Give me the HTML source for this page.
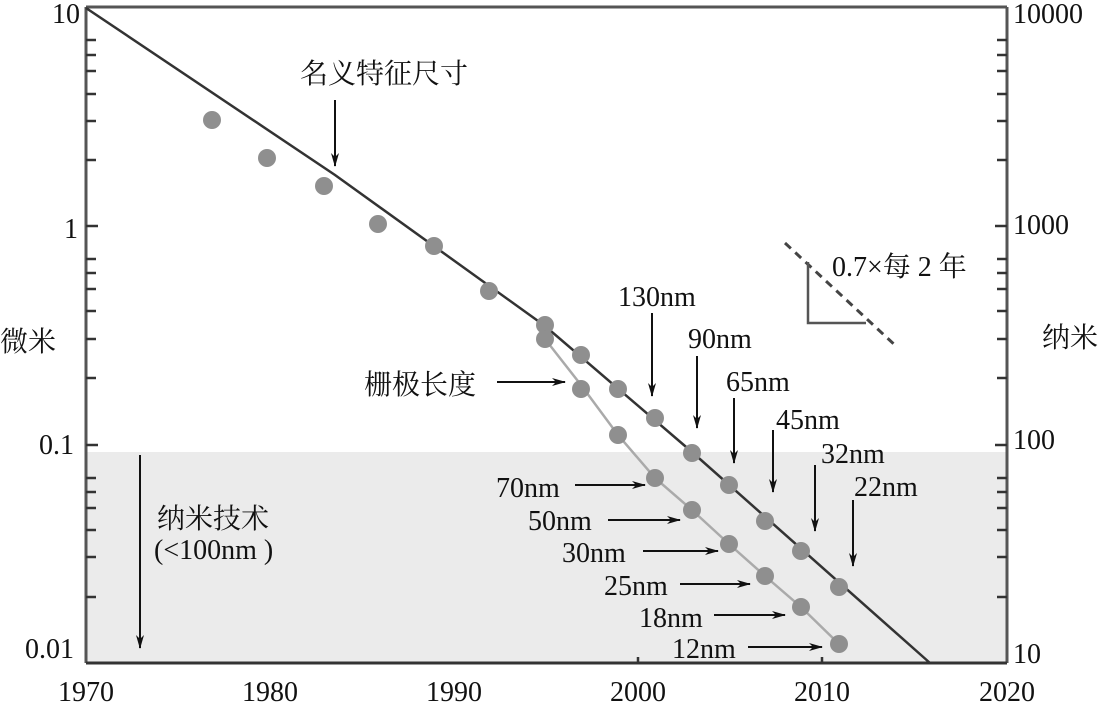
<!DOCTYPE html>
<html><head><meta charset="utf-8"><style>
html,body{margin:0;padding:0;background:#fff;}
svg text{font-family:"Liberation Serif","Noto Serif CJK SC",serif;fill:#111;}
</style></head><body>
<svg width="1098" height="705" viewBox="0 0 1098 705" xmlns="http://www.w3.org/2000/svg">
<defs><marker id="a" markerWidth="14" markerHeight="8" refX="13" refY="4" orient="auto" markerUnits="userSpaceOnUse"><path d="M0,0 L14,4 L0,8 L4,4 Z" fill="#111"/></marker></defs>
<rect x="86" y="452" width="921" height="211" fill="#ebebeb"/>
<g stroke="#555" stroke-width="3" fill="none">
<line x1="86" y1="7" x2="1007" y2="7"/>
<line x1="86" y1="7" x2="86" y2="663"/>
<line x1="1007" y1="7" x2="1007" y2="663"/>
<line x1="86" y1="663" x2="1007" y2="663" stroke="#333"/>
</g>
<g stroke="#333" stroke-width="2.5">
<path d="M86,40h10M86,55h10M86,71h10M86,94h10M86,121h10M86,160h10M86,226h12M86,259h10M86,273h10M86,289h10M86,311h10M86,339h10M86,378h10M86,445h12M86,478h10M86,492h10M86,508h10M86,530h10M86,557h10M86,597h10"/>
<path d="M1007,40h-10M1007,55h-10M1007,71h-10M1007,94h-10M1007,121h-10M1007,160h-10M1007,226h-12M1007,259h-10M1007,273h-10M1007,289h-10M1007,311h-10M1007,339h-10M1007,378h-10M1007,445h-12M1007,478h-10M1007,492h-10M1007,508h-10M1007,530h-10M1007,557h-10M1007,597h-10"/>
<path d="M638,663v-6M822,663v-6"/>
</g>
<polyline points="86,8 335,175 545,326 692,452 930,663" fill="none" stroke="#333" stroke-width="2.5"/>
<polyline points="545,339 581,385 618,435 655,478 692,510 729,544 765,576 801,607 839,644" fill="none" stroke="#aaa" stroke-width="2.5"/>
<g fill="#8f8f8f">
<circle cx="212" cy="120" r="9"/><circle cx="267" cy="158" r="9"/><circle cx="324" cy="186" r="9"/><circle cx="378" cy="224" r="9"/><circle cx="434" cy="246" r="9"/><circle cx="489" cy="291" r="9"/>
<circle cx="545" cy="325" r="9"/><circle cx="545" cy="339" r="9"/><circle cx="581" cy="355" r="9"/><circle cx="581" cy="389" r="9"/><circle cx="618" cy="389" r="9"/><circle cx="618" cy="435" r="9"/><circle cx="655" cy="418" r="9"/><circle cx="655" cy="478" r="9"/><circle cx="692" cy="453" r="9"/><circle cx="692" cy="510" r="9"/><circle cx="729" cy="485" r="9"/><circle cx="729" cy="544" r="9"/><circle cx="765" cy="521" r="9"/><circle cx="765" cy="576" r="9"/><circle cx="801" cy="551" r="9"/><circle cx="801" cy="607" r="9"/><circle cx="839" cy="587" r="9"/><circle cx="839" cy="644" r="9"/>
</g>
<line x1="785" y1="243" x2="897" y2="347" stroke="#444" stroke-width="3" stroke-dasharray="8,6"/>
<polyline points="808,262 808,323 866,323" fill="none" stroke="#555" stroke-width="2.5"/>
<g stroke="#111" stroke-width="2" marker-end="url(#a)">
<line x1="335" y1="100" x2="335" y2="166"/>
<line x1="497" y1="382" x2="565" y2="382"/>
<line x1="652" y1="313" x2="652" y2="396"/>
<line x1="697" y1="356" x2="697" y2="428"/>
<line x1="734" y1="398" x2="734" y2="463"/>
<line x1="773" y1="430" x2="773" y2="492"/>
<line x1="815" y1="465" x2="815" y2="531"/>
<line x1="853" y1="500" x2="853" y2="566"/>
<line x1="575" y1="485" x2="645" y2="485"/>
<line x1="608" y1="520" x2="680" y2="520"/>
<line x1="643" y1="551" x2="718" y2="551"/>
<line x1="680" y1="584" x2="750" y2="584"/>
<line x1="714" y1="615" x2="785" y2="615"/>
<line x1="748" y1="647" x2="822" y2="647"/>
<line x1="140" y1="455" x2="140" y2="648"/>
</g>
<g font-size="28">
<text x="80" y="23" text-anchor="end">10</text>
<text x="78" y="238" text-anchor="end">1</text>
<text x="74" y="454" text-anchor="end">0.1</text>
<text x="74" y="658" text-anchor="end">0.01</text>
<text x="1013" y="23">10000</text>
<text x="1013" y="234">1000</text>
<text x="1013" y="449">100</text>
<text x="1013" y="663">10</text>
<text x="86" y="701" text-anchor="middle">1970</text>
<text x="270" y="701" text-anchor="middle">1980</text>
<text x="454" y="701" text-anchor="middle">1990</text>
<text x="638" y="701" text-anchor="middle">2000</text>
<text x="822" y="701" text-anchor="middle">2010</text>
<text x="1007" y="701" text-anchor="middle">2020</text>
<text x="0" y="351">微米</text>
<text x="1042" y="347">纳米</text>
<text x="300" y="83">名义特征尺寸</text>
<text x="364" y="394">栅极长度</text>
<text x="618" y="306">130nm</text>
<text x="688" y="348">90nm</text>
<text x="726" y="391">65nm</text>
<text x="776" y="429">45nm</text>
<text x="821" y="463">32nm</text>
<text x="854" y="496">22nm</text>
<text x="496" y="497">70nm</text>
<text x="528" y="530">50nm</text>
<text x="562" y="562">30nm</text>
<text x="604" y="595">25nm</text>
<text x="639" y="627">18nm</text>
<text x="672" y="658">12nm</text>
<text x="157" y="528">纳米技术</text>
<text x="154" y="559">(&lt;100nm )</text>
<text x="832" y="276">0.7×每 2 年</text>
</g>
</svg>
</body></html>
